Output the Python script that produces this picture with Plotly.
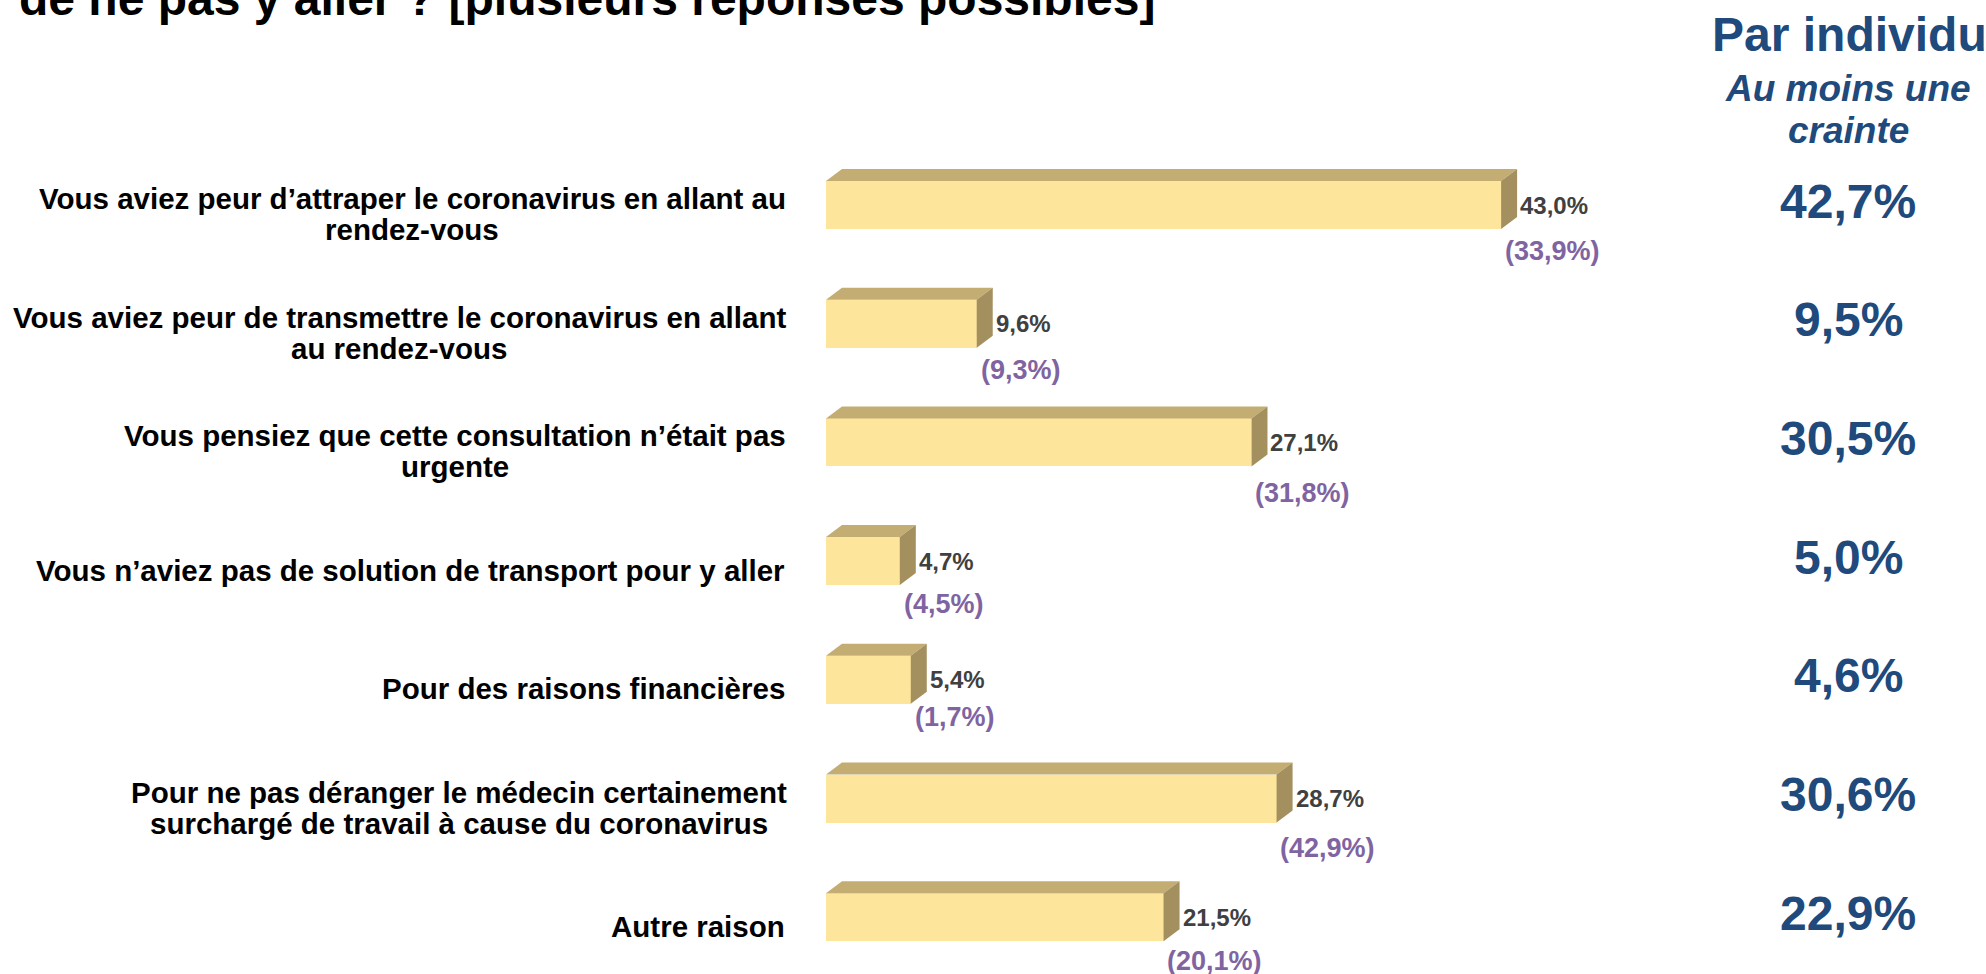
import plotly.graph_objects as go

# data
categories = [
    "Vous aviez peur d’attraper le coronavirus en allant au<br>rendez-vous",
    "Vous aviez peur de transmettre le coronavirus en allant<br>au rendez-vous",
    "Vous pensiez que cette consultation n’était pas<br>urgente",
    "Vous n’aviez pas de solution de transport pour y aller",
    "Pour des raisons financières",
    "Pour ne pas déranger le médecin certainement<br>surchargé de travail à cause du coronavirus",
    "Autre raison",
]
pct_current = [43.0, 9.6, 27.1, 4.7, 5.4, 28.7, 21.5]
pct_previous = [33.9, 9.3, 31.8, 4.5, 1.7, 42.9, 20.1]
par_individu = [42.7, 9.5, 30.5, 5.0, 4.6, 30.6, 22.9]

title_line = "de ne pas y aller ? [plusieurs réponses possibles]"
side_title = "Par individu"
side_sub = ["Au moins une", "crainte"]

W, H = 1986, 974
FONT = "Liberation Sans, Arial, sans-serif"
BLUE = "#20497c"
PURPLE = "#8064a2"
GREY = "#404040"
FRONT = "#fde59b"
TOP = "#c3ad73"
SIDE = "#a48f5f"

# pixel geometry of the chart area
x0_px = 826          # where 0 % sits
px_per_pct = 15.7
row0_px = 205        # centre of first bar
row_px = 118.7       # distance between bars
bar_h = 48 / row_px  # front face height in row units
dx = 16 / px_per_pct  # 3d depth
dy = 12 / row_px

# per row vertical shift of the purple label (px below bar centre)
prev_offsets = [46, 46, 51, 43, 37, 49, 44]

LABEL_SIZE = 29.5
LINE_PITCH = 31
LABEL_RIGHT = 787

# rough Arial Bold advance widths (per em)
AW = {" ": .278, "a": .556, "b": .611, "c": .556, "d": .611, "e": .556,
      "f": .333, "g": .611, "h": .611, "i": .278, "j": .278, "k": .556,
      "l": .278, "m": .889, "n": .611, "o": .611, "p": .611, "q": .611,
      "r": .389, "s": .556, "t": .333, "u": .611, "v": .556, "w": .778,
      "x": .556, "y": .556, "z": .500, "é": .556, "è": .556, "à": .556,
      "’": .278, "-": .333, "V": .667, "P": .667, "A": .722,
      ",": .278, "%": .889, "(": .333, ")": .333}


def text_w(s, size):
    return sum(AW.get(c, 0.556) for c in s) * size


def fr(v):
    return f"{v:.1f}".replace(".", ",") + "%"


rows = list(range(len(categories)))
ytop = -row0_px / row_px
ybot = ytop + H / row_px

fig = go.Figure()

# front faces
fig.add_trace(go.Bar(
    x=pct_current, y=rows, orientation="h", width=bar_h,
    marker=dict(color=FRONT, line=dict(width=0)),
    hoverinfo="skip", showlegend=False,
))

# top and side faces
for i, v in zip(rows, pct_current):
    t = i - bar_h / 2
    b = i + bar_h / 2
    fig.add_trace(go.Scatter(
        x=[0, v, v + dx, dx, 0], y=[t, t, t - dy, t - dy, t],
        fill="toself", fillcolor=TOP, mode="lines", line=dict(width=0),
        hoverinfo="skip", showlegend=False,
    ))
    fig.add_trace(go.Scatter(
        x=[v, v + dx, v + dx, v, v], y=[t, t - dy, b - dy, b, t],
        fill="toself", fillcolor=SIDE, mode="lines", line=dict(width=0),
        hoverinfo="skip", showlegend=False,
    ))

label_font = dict(family=FONT, size=LABEL_SIZE, color="black", weight="bold")

ann = []
for i, v in enumerate(pct_current):
    lab = fr(v)
    ann.append(dict(
        x=v, y=i, xref="x", yref="y", text=lab, showarrow=False,
        xanchor="left", yanchor="middle", xshift=17,
        font=dict(family=FONT, size=24, color=GREY, weight="bold"),
    ))
    ann.append(dict(
        x=v, y=i, xref="x", yref="y", text="(" + fr(pct_previous[i]) + ")",
        showarrow=False, xanchor="center", yanchor="middle",
        xshift=17 + text_w(lab, 24) / 2, yshift=-prev_offsets[i],
        font=dict(family=FONT, size=27, color=PURPLE, weight="bold"),
    ))

    # category label: block right-aligned, lines centred in the block
    lines = categories[i].split("<br>")
    if len(lines) == 1:
        ann.append(dict(
            x=LABEL_RIGHT / W, y=i, xref="paper", yref="y", text=lines[0],
            showarrow=False, xanchor="right", yanchor="middle", yshift=-9,
            font=label_font,
        ))
    else:
        w1 = max(text_w(ln, LABEL_SIZE) for ln in lines)
        cx = LABEL_RIGHT - w1 / 2
        for k, ln in enumerate(lines):
            ann.append(dict(
                x=cx / W, y=i, xref="paper", yref="y", text=ln,
                showarrow=False, xanchor="center", yanchor="middle",
                yshift=-9 - (k - 0.5) * LINE_PITCH,
                font=label_font,
            ))

    ann.append(dict(
        x=1848 / W, y=i, xref="paper", yref="y", text=fr(par_individu[i]),
        showarrow=False, xanchor="center", yanchor="middle", yshift=4,
        font=dict(family=FONT, size=48, color=BLUE, weight="bold"),
    ))

# right column header
ann.append(dict(
    x=1849 / W, y=1 - 34 / H, xref="paper", yref="paper", text=side_title,
    showarrow=False, xanchor="center", yanchor="middle",
    font=dict(family=FONT, size=48, color=BLUE, weight="bold"),
))
for txt, ypx in zip(side_sub, [88, 130]):
    ann.append(dict(
        x=1848 / W, y=1 - ypx / H, xref="paper", yref="paper", text=txt,
        showarrow=False, xanchor="center", yanchor="middle",
        font=dict(family=FONT, size=37, color=BLUE, weight="bold", style="italic"),
    ))

# slide title, cut off by the top edge
ann.append(dict(
    x=17 / W, y=1 + 1 / H, xref="paper", yref="paper", text=title_line,
    showarrow=False, xanchor="left", yanchor="middle",
    font=dict(family=FONT, size=48, color="black", weight="bold"),
))

fig.update_layout(
    width=W, height=H, autosize=False,
    margin=dict(l=0, r=0, t=0, b=0),
    paper_bgcolor="white", plot_bgcolor="white",
    xaxis=dict(domain=[x0_px / W, 1], range=[0, (W - x0_px) / px_per_pct],
               visible=False, fixedrange=True),
    yaxis=dict(range=[ybot, ytop], visible=False, fixedrange=True),
    bargap=0,
    annotations=ann,
)

fig.write_html("out.html", config={"displayModeBar": False},
               post_script="document.body.style.margin='0';")
